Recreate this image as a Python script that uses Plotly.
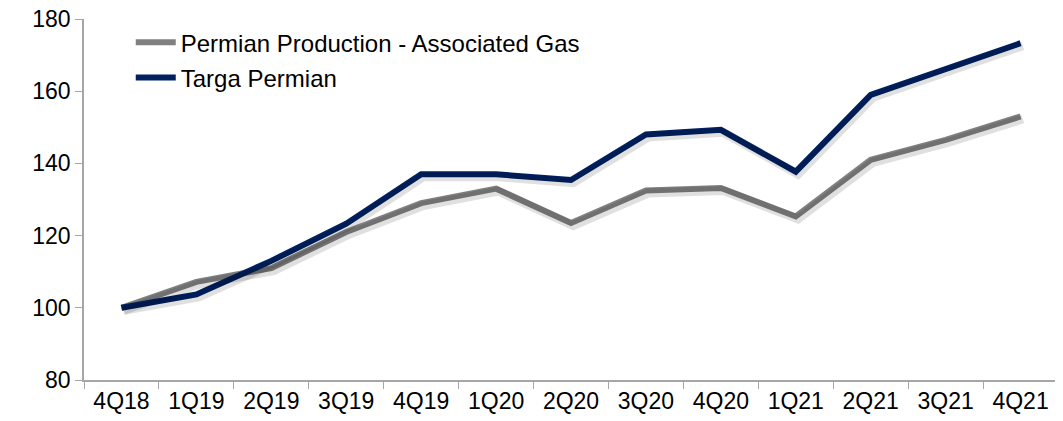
import plotly.graph_objects as go

quarters = ["4Q18", "1Q19", "2Q19", "3Q19", "4Q19", "1Q20", "2Q20",
            "3Q20", "4Q20", "1Q21", "2Q21", "3Q21", "4Q21"]
permian_assoc_gas = [100, 107.2, 111, 121, 129, 133, 123.5, 132.5, 133.2, 125.3, 141, 146.5, 153]
targa_permian = [100, 103.7, 113, 123.3, 137, 137, 135.4, 148, 149.3, 137.7, 159, 166, 173.3]

GRAY = "#808080"
NAVY = "#002060"
FONT = "Liberation Sans, Arial, sans-serif"

fig = go.Figure()
# soft drop shadows (same data, drawn on a slightly offset overlay axis)
for ys in (permian_assoc_gas, targa_permian):
    fig.add_trace(go.Scatter(x=quarters, y=ys, mode="lines", showlegend=False,
                             hoverinfo="skip", xaxis="x2", yaxis="y2",
                             line=dict(color="rgba(0,0,0,0.12)", width=9)))
fig.add_trace(go.Scatter(x=quarters, y=permian_assoc_gas, mode="lines",
                         name="Permian Production - Associated Gas",
                         line=dict(color=GRAY, width=6), legendgroup="a"))
fig.add_trace(go.Scatter(x=quarters, y=targa_permian, mode="lines",
                         name="Targa Permian",
                         line=dict(color=NAVY, width=6), legendgroup="b"))

# page body has an 8px default margin, so the figure is sized/offset to compensate
fig.update_layout(
    width=1055, height=413,
    margin=dict(l=76, r=5, t=11, b=41),
    paper_bgcolor="white", plot_bgcolor="white",
    font=dict(family=FONT, size=23, color="#000000"),
    legend=dict(x=0.048, y=0.997, xanchor="left", yanchor="top",
                bgcolor="rgba(0,0,0,0)", font=dict(size=24),
                traceorder="grouped", tracegroupgap=1, itemwidth=40),
    showlegend=True,
    xaxis2=dict(type="category", overlaying="x", range=[-0.5 - 0.03, 12.5 - 0.03],
                visible=False, automargin=False),
    yaxis2=dict(overlaying="y", range=[80 + 0.7, 180 + 0.7], visible=False,
                automargin=False),
)
fig.layout.xaxis.update(type="category", range=[-0.5, 12.5], showgrid=False,
                        showline=True, linecolor="#A6A6A6", linewidth=1.5,
                        ticks="outside", tickson="boundaries", ticklen=7,
                        tickcolor="#A6A6A6", tickfont=dict(size=23), zeroline=False,
                        ticklabeloverflow="allow", automargin=False)
fig.layout.yaxis.update(range=[80, 180], dtick=20, showgrid=False,
                        showline=True, linecolor="#A6A6A6", linewidth=1.5,
                        ticks="outside", ticklen=7, tickcolor="#A6A6A6",
                        tickfont=dict(size=23), zeroline=False,
                        ticklabeloverflow="allow", automargin=False)

fig.write_html("out.html")
